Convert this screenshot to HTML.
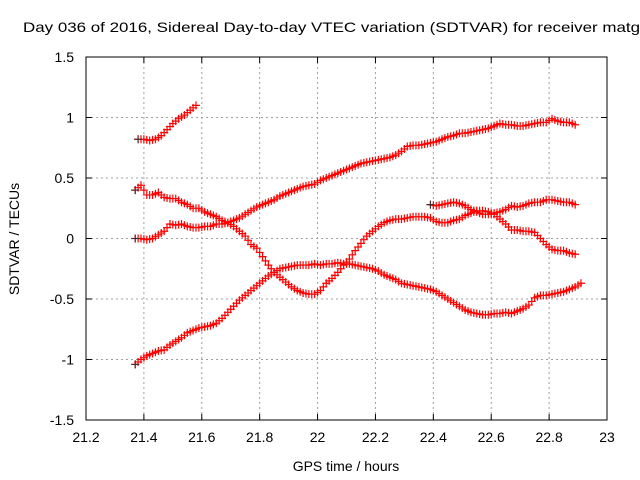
<!DOCTYPE html>
<html><head><meta charset="utf-8"><style>
body{margin:0;background:#fff;}
svg{display:block;font-family:"Liberation Sans",sans-serif;}
</style></head><body>
<svg id="chart" width="640" height="480">
<text x="23" y="32" font-size="14" textLength="617" lengthAdjust="spacingAndGlyphs">Day 036 of 2016, Sidereal Day-to-day VTEC variation (SDTVAR) for receiver matg</text>
<g id="grid"></g><g id="axes"></g><g id="marks"></g>
<text x="346" y="471" font-size="14" text-anchor="middle">GPS time / hours</text>
<text transform="translate(19,239) rotate(-90)" font-size="14" text-anchor="middle">SDTVAR / TECUs</text>
</svg>
<script>
const xTicks=[21.2,21.4,21.6,21.8,22,22.2,22.4,22.6,22.8,23];
const xTickLabels=["21.2","21.4","21.6","21.8","22","22.2","22.4","22.6","22.8","23"];
const yTicks=[-1.5,-1,-0.5,0,0.5,1,1.5];
const yTickLabels=["-1.5","-1","-0.5","0","0.5","1","1.5"];
const s1Start=21.38;
const s1=[0.82,0.82,0.81,0.82,0.85,0.90,0.95,0.99,1.02,1.06,1.10];
const s2Start=21.37;
const s2=[0.40,0.44,0.36,0.36,0.38,0.34,0.33,0.33,0.30,0.28,0.25,0.25,0.22,0.20,0.18,0.15,0.13,0.10,0.06,0.02,-0.05,-0.08,-0.15,-0.22,-0.28,-0.32,-0.36,-0.40,-0.43,-0.45,-0.46,-0.46,-0.43,-0.37,-0.33,-0.28,-0.22,-0.17,-0.10,-0.04,0.02,0.06,0.10,0.13,0.15,0.16,0.16,0.17,0.18,0.18,0.18,0.17,0.14,0.13,0.13,0.15,0.16,0.19,0.21,0.23,0.23,0.22,0.20,0.16,0.12,0.07,0.07,0.06,0.06,0.05,0.00,-0.05,-0.09,-0.10,-0.10,-0.12,-0.13];
const s3Start=21.37;
const s3=[0.0,0.0,-0.01,0.0,0.03,0.06,0.12,0.11,0.12,0.10,0.09,0.09,0.10,0.10,0.12,0.12,0.13,0.15,0.17,0.20,0.23,0.26,0.28,0.30,0.32,0.35,0.37,0.39,0.41,0.43,0.44,0.45,0.48,0.50,0.52,0.54,0.56,0.58,0.60,0.62,0.63,0.64,0.65,0.66,0.67,0.69,0.72,0.76,0.77,0.77,0.78,0.79,0.80,0.82,0.84,0.85,0.87,0.87,0.88,0.89,0.90,0.91,0.93,0.95,0.94,0.94,0.93,0.93,0.94,0.95,0.96,0.96,0.99,0.97,0.96,0.96,0.94];
const s4Start=21.37;
const s4=[-1.04,-1.00,-0.97,-0.95,-0.93,-0.92,-0.88,-0.85,-0.82,-0.78,-0.76,-0.74,-0.73,-0.72,-0.70,-0.66,-0.61,-0.56,-0.51,-0.47,-0.43,-0.39,-0.35,-0.31,-0.28,-0.25,-0.24,-0.23,-0.22,-0.22,-0.22,-0.21,-0.22,-0.21,-0.21,-0.20,-0.21,-0.21,-0.22,-0.23,-0.24,-0.25,-0.27,-0.30,-0.32,-0.34,-0.37,-0.38,-0.39,-0.40,-0.41,-0.42,-0.44,-0.47,-0.50,-0.53,-0.56,-0.59,-0.61,-0.62,-0.63,-0.63,-0.62,-0.62,-0.61,-0.62,-0.60,-0.58,-0.55,-0.49,-0.47,-0.47,-0.46,-0.45,-0.44,-0.42,-0.40,-0.37];
const s5Start=22.39;
const s5=[0.28,0.27,0.28,0.29,0.30,0.29,0.27,0.24,0.22,0.20,0.20,0.21,0.22,0.24,0.27,0.26,0.27,0.29,0.30,0.30,0.32,0.32,0.31,0.30,0.30,0.28];
const step=0.02;
const X0=86,X1=607,Y0=420,Y1=57;
const xs=v=>X0+(v-21.2)/(23-21.2)*(X1-X0);
const ys=v=>Y0-(v+1.5)/3*(Y0-Y1);
const NS="http://www.w3.org/2000/svg";
function mk(tag,attrs,parent){const e=document.createElementNS(NS,tag);for(const k in attrs)e.setAttribute(k,attrs[k]);parent.appendChild(e);return e;}
const grid=document.getElementById('grid'),axes=document.getElementById('axes'),marks=document.getElementById('marks');
xTicks.forEach((t,i)=>{const x=xs(t);
 if(i>0&&i<xTicks.length-1){const g=mk('line',{x1:x,x2:x,y1:Y1,y2:Y0,stroke:'#a0a0a0','stroke-dasharray':'2,3'},grid);
 
 }
 mk('line',{x1:x,x2:x,y1:Y0,y2:Y0-6,stroke:'#000'},axes);mk('line',{x1:x,x2:x,y1:Y1,y2:Y1+6,stroke:'#000'},axes);
 const l=mk('text',{x:x,y:Y0+22,'font-size':14,'text-anchor':'middle'},axes);l.textContent=xTickLabels[i];
 
 });
yTicks.forEach((t,i)=>{const y=ys(t);
 if(i>0&&i<yTicks.length-1){const g=mk('line',{x1:X0,x2:X1,y1:y,y2:y,stroke:'#a0a0a0','stroke-dasharray':'2,3'},grid);
 
 }
 mk('line',{x1:X0,x2:X0+6,y1:y,y2:y,stroke:'#000'},axes);mk('line',{x1:X1,x2:X1-6,y1:y,y2:y,stroke:'#000'},axes);
 const l=mk('text',{x:X0-12,y:y+5,'font-size':14,'text-anchor':'end'},axes);l.textContent=yTickLabels[i];
 
 });
const border=mk('rect',{x:X0,y:Y1,width:X1-X0,height:Y0-Y1,fill:'none',stroke:'#000'},axes);


[[s1Start,s1],[s2Start,s2],[s3Start,s3],[s4Start,s4],[s5Start,s5]].forEach(([st,arr],si)=>{
 const g=mk('g',{},marks);
 
 
 let d='';
 arr.forEach((v,i)=>{const x=xs(st+i*step),y=ys(v);d+=`M${x-4},${y}h8M${x},${y-4}v8`;
  const x2=xs(st+i*step+0.01),y2=ys(i<arr.length-1?(v+arr[i+1])/2:v);if(i<arr.length-1)d+=`M${x2-4},${y2}h8M${x2},${y2-4}v8`;});
 mk('path',{d:d,stroke:'#f00','stroke-width':1.2,fill:'none'},g);
 const x=xs(st),y=ys(arr[0]);
 mk('path',{d:`M${x-4},${y}h8M${x},${y-4}v8`,stroke:'#333','stroke-width':1},g);
});
</script>
</body></html>
